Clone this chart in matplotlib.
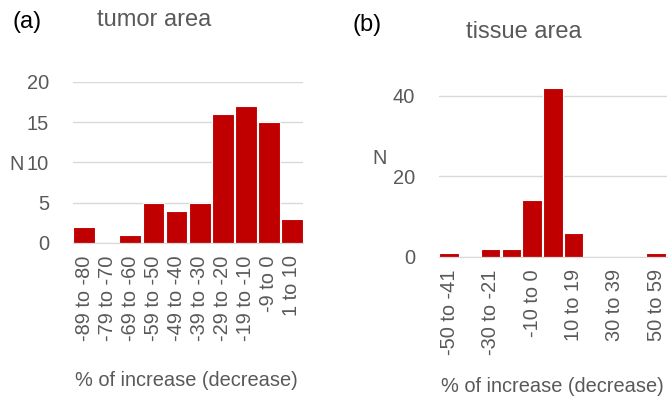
import numpy as np
import matplotlib.pyplot as plt

plt.rcParams['font.family'] = ['Liberation Sans', 'DejaVu Sans']

# (a) tumor area
tumor_bins = ['-89 to -80', '-79 to -70', '-69 to -60', '-59 to -50', '-49 to -40',
              '-39 to -30', '-29 to -20', '-19 to -10', '-9 to 0', '1 to 10']
tumor_n = [2, 0, 1, 5, 4, 5, 16, 17, 15, 3]

# (b) tissue area
tissue_bins = ['-50 to -41', '-40 to -31', '-30 to -21', '-20 to -11', '-10 to 0',
               '1 to 9', '10 to 19', '20 to 29', '30 to 39', '40 to 49', '50 to 59']
tissue_n = [1, 0, 2, 2, 14, 42, 6, 0, 0, 0, 1]

red = '#C00000'
grey = '#595959'
grid = '#D9D9D9'

fig = plt.figure(figsize=(6.68, 3.97), dpi=100)


def style(ax, ymax, yticks):
    ax.set_ylim(0, ymax)
    ax.set_yticks(yticks)
    ax.yaxis.grid(True, color=grid, linewidth=1)
    ax.set_axisbelow(True)
    for s in ['top', 'right', 'left']:
        ax.spines[s].set_visible(False)
    ax.spines['bottom'].set_color(grid)
    ax.tick_params(axis='both', length=0, labelsize=14.4, labelcolor=grey)
    ax.tick_params(axis='y', pad=17)
    ax.tick_params(axis='x', pad=9)


# panel a
ax1 = fig.add_axes([0.109, 0.388, 0.345, 0.4055])
x1 = np.arange(len(tumor_n))
ax1.bar(x1, tumor_n, width=0.95, color=red, edgecolor='white', linewidth=0.8)
ax1.set_xlim(-0.5, len(tumor_n) - 0.5)
style(ax1, 20, [0, 5, 10, 15, 20])
ax1.set_xticks(x1)
ax1.set_xticklabels(tumor_bins, rotation=90)

# panel b
ax2 = fig.add_axes([0.657, 0.353, 0.341, 0.4466])
x2 = np.arange(len(tissue_n))
ax2.bar(x2, tissue_n, width=0.95, color=red, edgecolor='white', linewidth=0.8)
ax2.set_xlim(-0.5, len(tissue_n) - 0.5)
style(ax2, 44, [0, 20, 40])
ax2.set_xticks(x2[::2])
ax2.set_xticklabels(tissue_bins[::2], rotation=90)

# texts
fig.text(27 / 668, 1 - 22 / 397, '(a)', fontsize=17, color='black', ha='center', va='center')
fig.text(154 / 668, 1 - 20 / 397, 'tumor area', fontsize=17, color=grey, ha='center', va='center')
fig.text(367 / 668, 1 - 25 / 397, '(b)', fontsize=17, color='black', ha='center', va='center')
fig.text(524 / 668, 1 - 32 / 397, 'tissue area', fontsize=17, color=grey, ha='center', va='center')
fig.text(17 / 668, 1 - 164 / 397, 'N', fontsize=14.4, color=grey, ha='center', va='center')
fig.text(380 / 668, 1 - 158 / 397, 'N', fontsize=14.4, color=grey, ha='center', va='center')
fig.text(186 / 668, 1 - 381 / 397, '% of increase (decrease)', fontsize=14.4, color=grey,
         ha='center', va='center')
fig.text(552 / 668, 1 - 386 / 397, '% of increase (decrease)', fontsize=14.4, color=grey,
         ha='center', va='center')

fig.savefig('out.png', dpi=100)
